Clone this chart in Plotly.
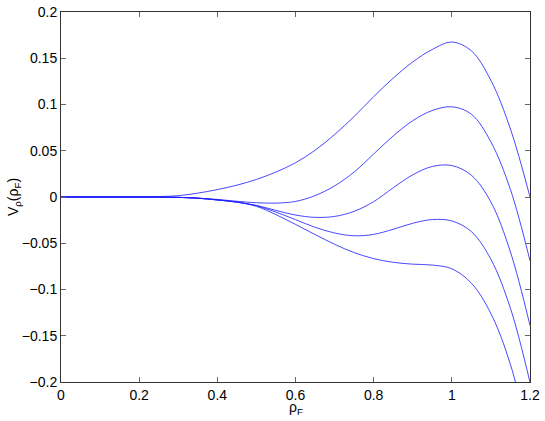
import plotly.graph_objects as go

rho = [0, 0.05, 0.1, 0.15, 0.2, 0.25, 0.3, 0.35, 0.4, 0.45, 0.5, 0.55, 0.6,
       0.65, 0.7, 0.75, 0.8, 0.85, 0.9, 0.95, 1.0, 1.05, 1.1, 1.15, 1.2]

curve1 = [0, 0, 0, 0, 0.0001, 0.0005, 0.0014, 0.0042, 0.008, 0.0128, 0.019,
          0.027, 0.037, 0.0505, 0.0675, 0.087, 0.1085, 0.1285, 0.146, 0.1595,
          0.1675, 0.158, 0.126, 0.0735, 0.0]
curve2 = [0, 0, 0, 0, 0, -0.0001, -0.0004, -0.0012, -0.0026, -0.0046, -0.0062,
          -0.0066, -0.0048, 0.0015, 0.012, 0.027, 0.0465, 0.066, 0.0825, 0.0935,
          0.0975, 0.0895, 0.0595, 0.008, -0.069]
curve3 = [0, 0, 0, 0, 0, -0.0001, -0.0004, -0.0013, -0.0032, -0.0055, -0.009,
          -0.0145, -0.0195, -0.022, -0.021, -0.0155, -0.005, 0.010, 0.024,
          0.033, 0.034, 0.0235, -0.0055, -0.0595, -0.139]
curve4 = [0, 0, 0, 0, 0, -0.0001, -0.0004, -0.0013, -0.0032, -0.0055, -0.0095,
          -0.0163, -0.0245, -0.0327, -0.0389, -0.0419, -0.0404, -0.0349, -0.0284,
          -0.0244, -0.0259, -0.0374, -0.0674, -0.1204, -0.2004]
curve5 = [0, 0, 0, 0, 0, -0.0001, -0.0004, -0.0013, -0.0032, -0.0056, -0.0101,
          -0.0191, -0.0296, -0.0406, -0.0511, -0.0601, -0.0666, -0.0706, -0.0726,
          -0.0736, -0.0776, -0.0931, -0.1261, -0.1811, -0.2661]

x_ticks = [0, 0.2, 0.4, 0.6, 0.8, 1, 1.2]
x_labels = ["0", "0.2", "0.4", "0.6", "0.8", "1", "1.2"]
y_ticks = [-0.2, -0.15, -0.1, -0.05, 0, 0.05, 0.1, 0.15, 0.2]
y_labels = ["\u22120.2", "\u22120.15", "\u22120.1", "\u22120.05", "0",
            "0.05", "0.1", "0.15", "0.2"]

FONT = "Liberation Sans, Arial, Helvetica, sans-serif"

fig = go.Figure()
for c in [curve1, curve2, curve3, curve4, curve5]:
    fig.add_trace(go.Scatter(x=rho, y=c, mode="lines",
                             line=dict(color="#1a1aff", width=0.8, shape="spline", smoothing=1.0),
                             showlegend=False, hoverinfo="skip"))

axis_common = dict(showline=True, linecolor="#333333", linewidth=1, mirror="ticks",
                   ticks="inside", ticklen=5, tickcolor="#666666", tickwidth=1,
                   showgrid=False, zeroline=False, automargin=False,
                   ticklabeloverflow="allow",
                   tickfont=dict(family=FONT, size=14, color="#000000"))

fig.update_xaxes(range=[0, 1.2], tickvals=x_ticks, ticktext=x_labels, **axis_common)
fig.update_yaxes(range=[-0.2, 0.2], tickvals=y_ticks, ticktext=y_labels, **axis_common)

fig.add_annotation(text="\u03c1<sub>F</sub>", xref="paper", yref="paper",
                   x=0.5, y=-0.04, xanchor="center", yanchor="top", showarrow=False,
                   font=dict(family=FONT, size=14, color="#000000"))
fig.add_annotation(text="V<sub>\u03c1</sub>(\u03c1<sub>F</sub>)", xref="paper", yref="paper",
                   x=-0.1, y=0.5, xanchor="center", yanchor="middle", showarrow=False,
                   textangle=-90, font=dict(family=FONT, size=14, color="#000000"))

fig.update_layout(width=545, height=421,
                  margin=dict(l=61, r=15, t=12, b=39, autoexpand=False),
                  paper_bgcolor="white", plot_bgcolor="white")

fig.write_html("out.html", config={"displayModeBar": False, "staticPlot": True},
               post_script="document.body.style.margin='0';document.body.style.overflow='hidden';")
